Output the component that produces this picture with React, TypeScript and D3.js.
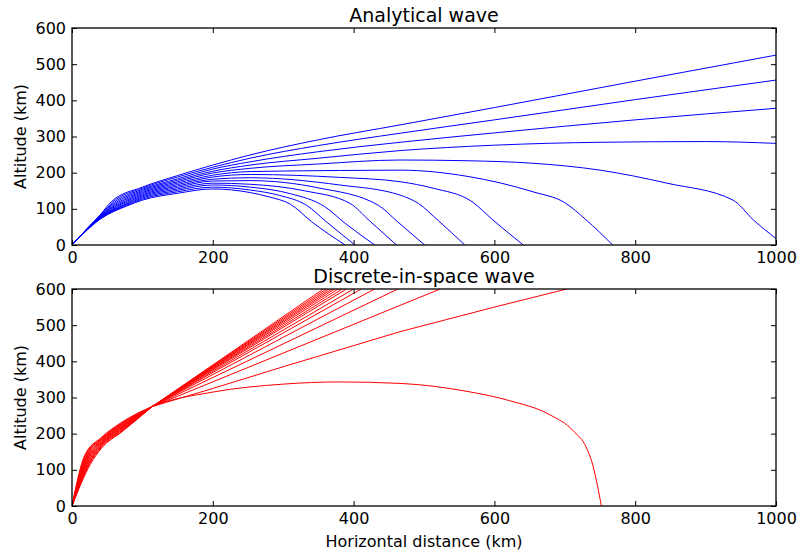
import React, { useEffect, useRef } from "react";
import * as d3 from "d3";

type Pt = [number, number];

const xTicks = [0, 200, 400, 600, 800, 1000];
const yTicks = [0, 100, 200, 300, 400, 500, 600];
const titles = ["Analytical wave", "Discrete-in-space wave"];
const xLabel = "Horizontal distance (km)";
const yLabel = "Altitude (km)";

// analytical rays, lowest elevation first (km, km)
const blueRays: Pt[][] = [
  [[0, 0], [42, 74], [78, 108], [100, 124], [150, 143], [200, 155], [253, 145], [280, 133], [310, 113], [340, 65], [388, 0]],
  [[0, 0], [42, 75], [77, 109], [100, 127], [150, 147], [200, 160], [253, 152], [295, 137], [333, 110], [362, 63], [402, 0]],
  [[0, 0], [42, 76], [75, 110], [100, 130], [150, 151], [200, 166], [253, 160], [310, 142], [359, 106], [388, 60], [430, 0]],
  [[0, 0], [42, 77], [74, 111], [100, 133], [150, 155], [200, 171], [253, 168], [330, 150], [395, 115], [422, 68], [461, 0]],
  [[0, 0], [42, 78], [72, 112], [100, 136], [150, 159], [200, 177], [253, 178], [350, 158], [435, 110], [462, 65], [501, 0]],
  [[0, 0], [42, 79], [70, 113], [100, 139], [150, 163], [200, 182], [253, 186], [380, 166], [466, 138], [492, 115], [520, 68], [558, 0]],
  [[0, 0], [42, 81], [68, 114], [100, 142], [150, 167], [200, 188], [253, 195], [380, 187], [466, 175], [513, 157], [568, 120], [598, 69], [641, 0]],
  [[0, 0], [42, 82], [66, 115], [100, 145], [150, 171], [200, 193], [253, 203], [380, 206], [466, 207], [561, 190], [655, 147], [700, 117], [730, 70], [768, 0]],
  [[0, 0], [42, 83], [64, 116], [100, 148], [150, 175], [200, 199], [253, 212], [350, 224], [466, 235], [561, 233], [655, 226], [750, 207], [845, 171], [939, 124], [968, 69], [1000, 18]],
  [[0, 0], [42, 84], [62, 117], [100, 151], [150, 179], [200, 204], [253, 221], [350, 240], [466, 261], [600, 276], [750, 284], [900, 286], [1000, 281]],
  [[0, 0], [42, 86], [60, 118], [100, 154], [150, 183], [200, 210], [253, 230], [350, 258], [466, 284], [600, 310], [800, 346], [1000, 378]],
  [[0, 0], [42, 87], [58, 119], [100, 157], [150, 188], [200, 215], [253, 240], [350, 275], [466, 309], [600, 346], [800, 402], [1000, 456]],
  [[0, 0], [42, 88], [56, 120], [100, 160], [150, 192], [200, 221], [253, 249], [350, 291], [466, 332], [600, 380], [800, 453], [1000, 525]],
];

// discrete-in-space rays; all pass the focus at x = 114 km
const focusX = 114;
const redRays: Pt[][] = [
  [[0, 0], [18, 140], [42, 190], [71, 232], [114, 275], [200, 315], [300, 337], [380, 343], [466, 339], [561, 317], [622, 291], [679, 252], [712, 208], [731, 160], [738, 125], [752, 0]],
  [[0, 0], [18.5, 138], [42, 188], [71, 230], [114, 275], [200, 325], [300, 385], [466, 482], [600, 550], [703, 600]],
  [[0, 0], [19, 136], [42, 186], [71, 228], [114, 275], [523, 600]],
  [[0, 0], [19.5, 134], [42, 184], [71, 226], [114, 275], [463, 600]],
  [[0, 0], [20, 132], [42, 182], [71, 224], [114, 275], [430, 600]],
  [[0, 0], [20.5, 130], [42, 180], [71, 222], [114, 275], [411, 600]],
  [[0, 0], [21, 128], [42, 178], [71, 220], [114, 275], [400, 600]],
  [[0, 0], [21.5, 127], [42, 176], [71, 219], [114, 275], [390, 600]],
  [[0, 0], [22, 125], [42, 174], [71, 217], [114, 275], [384, 600]],
  [[0, 0], [22.5, 123], [42, 172], [71, 215], [114, 275], [378, 600]],
  [[0, 0], [23, 121], [42, 170], [71, 213], [114, 275], [373, 600]],
  [[0, 0], [24, 120], [42, 168], [71, 211], [114, 275], [369, 600]],
  [[0, 0], [24.5, 118], [42, 166], [71, 209], [114, 275], [365, 600]],
  [[0, 0], [25, 117], [42, 163], [71, 207], [114, 275], [361, 600]],
  [[0, 0], [26, 115], [42, 160], [71, 205], [114, 275], [357, 600]],
];

const W = 799;
const H = 553;
const left = 72;
const right = 776;
const panels = [
  { top: 28, bottom: 245 },
  { top: 289, bottom: 506 },
];
const font = "DejaVu Sans, sans-serif";

export default function App() {
  const ref = useRef<SVGSVGElement>(null);

  useEffect(() => {
    const svg = d3.select(ref.current);
    svg.selectAll("*").remove();
    svg.append("rect").attr("width", W).attr("height", H).attr("fill", "white");

    const x = d3.scaleLinear().domain([0, 1000]).range([left, right]);

    panels.forEach((p, i) => {
      const y = d3.scaleLinear().domain([0, 600]).range([p.bottom, p.top]);
      const g = svg.append("g");
      const clipId = `clip${i}`;
      g.append("clipPath").attr("id", clipId)
        .append("rect")
        .attr("x", left).attr("y", p.top)
        .attr("width", right - left).attr("height", p.bottom - p.top);

      const smooth = d3.line<Pt>().x(d => x(d[0])).y(d => y(d[1])).curve(d3.curveMonotoneX);
      const straight = d3.line<Pt>().x(d => x(d[0])).y(d => y(d[1]));
      const color = i === 0 ? "#0000ff" : "#ff0000";
      const rays = i === 0 ? blueRays : redRays;
      const lines = g.append("g").attr("clip-path", `url(#${clipId})`)
        .attr("fill", "none").attr("stroke", color).attr("stroke-width", 1);

      rays.forEach(r => {
        const landed = r[r.length - 1][1] === 0;
        if (i === 0 || landed) {
          lines.append("path").attr("d", smooth(r));
        } else {
          const k = r.findIndex(d => d[0] === focusX);
          lines.append("path").attr("d", smooth(r.slice(0, k + 1)));
          lines.append("path").attr("d", straight(r.slice(k)));
        }
      });

      // axes, ticks pointing inward on all four sides
      const ax = g.append("g").attr("class", "axes");
      ax.append("g").attr("transform", `translate(0,${p.bottom})`)
        .call(d3.axisBottom(x).tickValues(xTicks).tickSize(-5).tickPadding(7).tickFormat(d => String(d)));
      ax.append("g").attr("transform", `translate(0,${p.top})`)
        .call(d3.axisTop(x).tickValues(xTicks).tickSize(-5).tickFormat(() => ""));
      ax.append("g").attr("transform", `translate(${left},0)`)
        .call(d3.axisLeft(y).tickValues(yTicks).tickSize(-5).tickPadding(6).tickFormat(d => String(d)));
      ax.append("g").attr("transform", `translate(${right},0)`)
        .call(d3.axisRight(y).tickValues(yTicks).tickSize(-5).tickFormat(() => ""));
      ax.selectAll(".domain").remove();
      ax.selectAll(".tick line").attr("stroke", "#000").attr("stroke-width", 1);
      ax.selectAll(".tick text").attr("fill", "#000").style("font-family", font).style("font-size", "16px");

      g.append("rect")
        .attr("x", left).attr("y", p.top)
        .attr("width", right - left).attr("height", p.bottom - p.top)
        .attr("fill", "none").attr("stroke", "#000").attr("stroke-width", 1.3);

      g.append("text")
        .attr("x", (left + right) / 2).attr("y", p.top - 6)
        .attr("text-anchor", "middle")
        .style("font-family", font).style("font-size", "19px")
        .text(titles[i]);

      g.append("text")
        .attr("transform", `translate(26,${(p.top + p.bottom) / 2}) rotate(-90)`)
        .attr("text-anchor", "middle")
        .style("font-family", font).style("font-size", "16px")
        .text(yLabel);
    });

    svg.append("text")
      .attr("x", (left + right) / 2).attr("y", 547)
      .attr("text-anchor", "middle")
      .style("font-family", font).style("font-size", "16px")
      .text(xLabel);
  }, []);

  return <svg ref={ref} width={W} height={H} style={{ position: "absolute", left: 0, top: 0 }} />;
}
